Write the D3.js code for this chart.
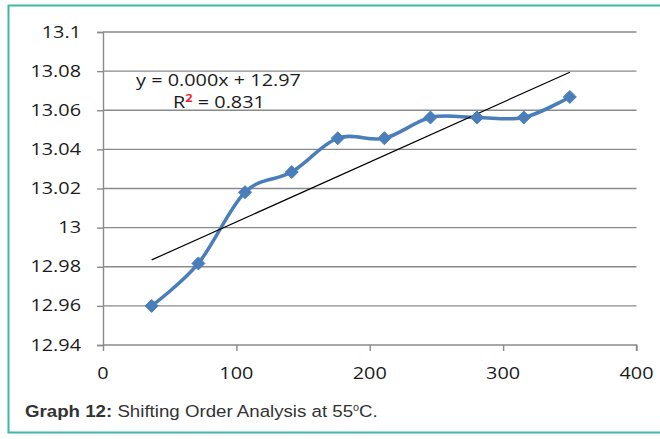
<!DOCTYPE html>
<html><head><meta charset="utf-8">
<script src="https://cdn.jsdelivr.net/npm/d3@7"></script>
<style>body{margin:0;background:#fff}svg{display:block}</style>
</head><body>
<script>
const xValues = [36.5, 71.5, 106.5, 141.5, 176, 211, 245.5, 280.5, 315.5, 350];
const yValues = [12.96, 12.9817, 13.0181, 13.0284, 13.0457, 13.0457, 13.0563, 13.0563, 13.0563, 13.0668];
const xTicks = [0, 100, 200, 300, 400];
const yTicks = [12.94, 12.96, 12.98, 13, 13.02, 13.04, 13.06, 13.08, 13.1];
const yTickLabels = ["12.94", "12.96", "12.98", "13", "13.02", "13.04", "13.06", "13.08", "13.1"];
const eqText = "y = 0.000x + 12.97";
const r2Value = "0.831";
const captionBold = "Graph 12:";
const captionText = " Shifting Order Analysis at 55";

const W = 660, H = 439;
const svg = d3.select("body").append("svg").attr("width", W).attr("height", H);
const tf = "'Open Sans', sans-serif";
const SX = 1.28;

// frame
svg.append("path").attr("d", `M${W+5},5.5 H8.5 V432.5 H${W+5}`)
  .attr("fill", "none").attr("stroke", "#3fb9a5").attr("stroke-width", 2);

const x = d3.scaleLinear().domain([0, 400]).range([103, 636.5]);
const y = d3.scaleLinear().domain([12.94, 13.1]).range([345, 32]);

function label(px, py, anchor, size, sx) {
  return svg.append("text")
    .attr("transform", `translate(${px},${py}) scale(${sx},1)`)
    .attr("text-anchor", anchor)
    .style("font-family", tf).style("font-size", size + "px").attr("fill", "#1a1a1a");
}

// gridlines
svg.append("g").selectAll("line").data(yTicks.slice(1)).join("line")
  .attr("x1", x(0)).attr("x2", x(400))
  .attr("y1", d => y(d)).attr("y2", d => y(d))
  .attr("stroke", "#8a8a8a").attr("stroke-width", 1.4);

// y axis
const gy = svg.append("g").attr("transform", `translate(${x(0)},0)`)
  .call(d3.axisLeft(y).tickValues(yTicks).tickSize(6).tickFormat(""));
gy.select(".domain").attr("stroke", "#8a8a8a").attr("stroke-width", 1.4);
gy.selectAll(".tick line").attr("stroke", "#8a8a8a").attr("stroke-width", 1.4);
yTicks.forEach((t, i) => label(81, y(t) + 5.5, "end", 15.5, SX).text(yTickLabels[i]));

// x axis
const gx = svg.append("g").attr("transform", `translate(0,${y(12.94)})`)
  .call(d3.axisBottom(x).tickValues(xTicks).tickSize(6).tickFormat(""));
gx.select(".domain").attr("stroke", "#8a8a8a").attr("stroke-width", 1.4).attr("d", `M${x(0)},0H${x(400)}V6`);
gx.selectAll(".tick line").attr("stroke", "#8a8a8a").attr("stroke-width", 1.4);
xTicks.forEach(t => label(x(t), 378.5, "middle", 15.5, SX).text(d3.format("d")(t)));

// data line
const pts = xValues.map((v, i) => [v, yValues[i]]);
svg.append("path").datum(pts)
  .attr("d", d3.line().x(d => x(d[0])).y(d => y(d[1])).curve(d3.curveCardinal.tension(0)))
  .attr("fill", "none").attr("stroke", "#4a7ebb").attr("stroke-width", 3.5);

// trendline (least squares)
const mx = d3.mean(xValues), my = d3.mean(yValues);
const slope = d3.sum(xValues, (v, i) => (v - mx) * (yValues[i] - my)) / d3.sum(xValues, v => (v - mx) ** 2);
const icpt = my - slope * mx;
const x0 = d3.min(xValues), x1 = d3.max(xValues);
svg.append("line")
  .attr("x1", x(x0)).attr("y1", y(icpt + slope * x0))
  .attr("x2", x(x1)).attr("y2", y(icpt + slope * x1))
  .attr("stroke", "#000").attr("stroke-width", 1.2);

// markers
svg.append("g").selectAll("path").data(pts).join("path")
  .attr("transform", d => `translate(${x(d[0])},${y(d[1])})`)
  .attr("d", "M0,-6.5L6.5,0L0,6.5L-6.5,0Z")
  .attr("fill", "#4a7ebb").attr("stroke", "#4a7ebb").attr("stroke-width", 1);

// equation
label(218.5, 86, "middle", 15.5, SX).text(eqText);
const r2 = label(219, 108, "middle", 15.5, SX);
r2.append("tspan").text("R");
r2.append("tspan").text("2").attr("fill", "#e8262a").style("font-size", "10px").style("font-weight", "bold").attr("dy", -6);
r2.append("tspan").text(" = " + r2Value).attr("dy", 6);

// caption
const cap = svg.append("text").attr("transform", "translate(25,417) scale(1.08,1)")
  .style("font-family", "'Liberation Sans', Arial, sans-serif").style("font-size", "17.3px").attr("fill", "#333");
cap.append("tspan").text(captionBold).style("font-weight", "bold");
cap.append("tspan").text(captionText);
cap.append("tspan").text("o").style("font-size", "10px").attr("dy", -6);
cap.append("tspan").text("C.").attr("dy", 6);
</script>
</body></html>
